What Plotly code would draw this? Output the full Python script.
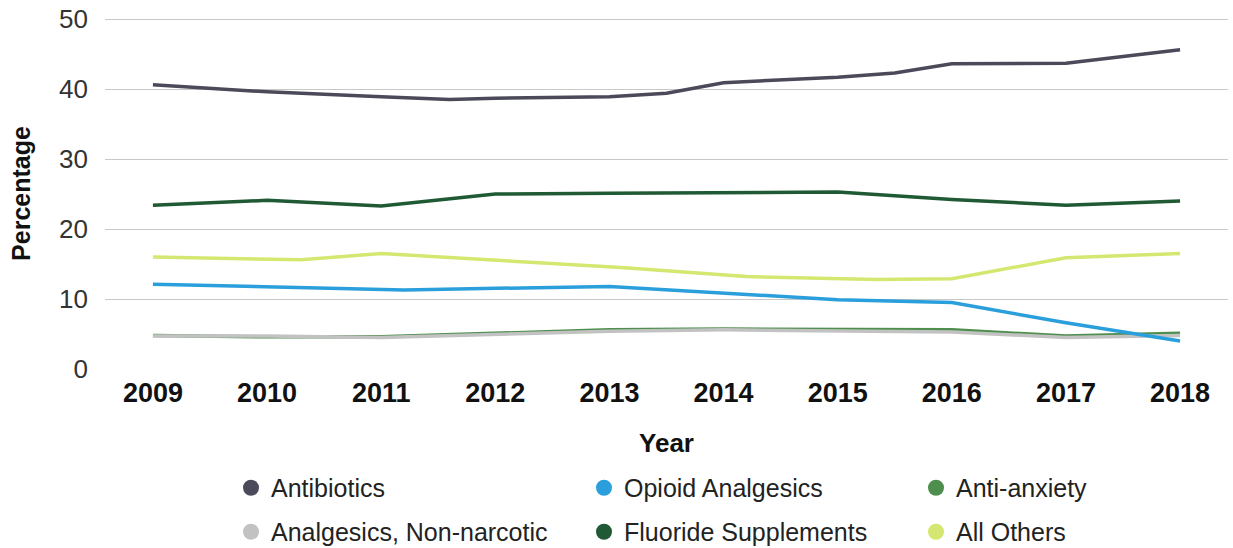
import plotly.graph_objects as go

years = [2009, 2010, 2011, 2012, 2013, 2014, 2015, 2016, 2017, 2018]

antibiotics_x = [2009, 2010, 2011, 2011.6, 2012, 2013, 2013.5, 2014, 2015, 2015.5, 2016, 2017, 2018]
antibiotics_y = [40.6, 39.6, 38.9, 38.5, 38.7, 38.9, 39.4, 40.9, 41.7, 42.3, 43.6, 43.7, 45.6]

opioid_x = [2009, 2011.2, 2013, 2014.2, 2015, 2016, 2017, 2018]
opioid_y = [12.1, 11.3, 11.8, 10.6, 9.9, 9.5, 6.6, 4.0]

anti_anxiety_y = [4.8, 4.6, 4.6, 5.1, 5.6, 5.7, 5.6, 5.6, 4.7, 5.1]
analgesics_y = [4.7, 4.7, 4.5, 5.0, 5.4, 5.6, 5.4, 5.3, 4.5, 4.8]

fluoride_y = [23.4, 24.1, 23.3, 25.0, 25.1, 25.2, 25.3, 24.2, 23.4, 24.0]

others_x = [2009, 2010.3, 2011, 2013.1, 2014.2, 2015.35, 2016, 2017, 2018]
others_y = [16.0, 15.6, 16.5, 14.5, 13.2, 12.8, 12.9, 15.9, 16.5]

series = [
    # name, x, y, color, legend id
    ("Fluoride Supplements", years, fluoride_y, "#1f5a35", "legend5"),
    ("All Others", others_x, others_y, "#d5e770", "legend6"),
    ("Antibiotics", antibiotics_x, antibiotics_y, "#4a4a5a", "legend"),
    ("Anti-anxiety", years, anti_anxiety_y, "#4e8f4e", "legend3"),
    ("Analgesics, Non-narcotic", years, analgesics_y, "#c2c2c2", "legend4"),
    ("Opioid Analgesics", opioid_x, opioid_y, "#2a9fdc", "legend2"),
]

fig = go.Figure()
for name, x, y, color, lg in series:
    fig.add_trace(go.Scatter(x=x, y=y, mode="lines", name=name,
                             line=dict(color=color, width=3.5),
                             showlegend=False, hoverinfo="x+y+name"))
    fig.add_trace(go.Scatter(x=[None], y=[None], mode="markers", name=name,
                             marker=dict(color=color, size=18, symbol="circle"),
                             legend=lg, showlegend=True))

# body margin is removed by post_script, so figure coords == page coords
YMAX = 50.15
W, H = 1233, 548
L = 105
R = W - 1228
B = H - 369
ph = 350 * YMAX / 50
T = 369 - ph
pw = W - L - R

def lx(px):
    return (px - L) / pw

def ly(py):
    return (H - B - py) / ph

col_px = [231, 584, 916]
row_py = [488, 532]
leg_font = dict(family="Liberation Sans, Arial, sans-serif", size=25, color="#222222")
legend_layout = {}
ids = [["legend", "legend2", "legend3"], ["legend4", "legend5", "legend6"]]
for r in range(2):
    for c in range(3):
        legend_layout[ids[r][c]] = dict(x=lx(col_px[c]), y=ly(row_py[r]), xanchor="left",
                                        yanchor="middle", font=leg_font,
                                        bgcolor="rgba(0,0,0,0)", orientation="v")

fig.update_layout(
    width=W, height=H,
    margin=dict(l=L, r=R, t=T, b=B, autoexpand=False),
    paper_bgcolor="white", plot_bgcolor="white",
    font=dict(family="Liberation Sans, Arial, sans-serif", color="#333333"),
    xaxis=dict(range=[2008.58, 2018.42], tickmode="array", tickvals=years,
               ticktext=[f"<b>{y}</b>" for y in years], automargin=False,
               tickfont=dict(size=27, color="#111111"), showgrid=False, zeroline=False,
               showline=False, ticks="", ticklabelstandoff=5, ticklabeloverflow="allow",
               title=dict(text="<b>Year</b>", font=dict(size=26, color="#111111"), standoff=26)),
    yaxis=dict(range=[0, YMAX], tickvals=[0, 10, 20, 30, 40, 50], automargin=False,
               tickfont=dict(size=26, color="#333333"), showgrid=True,
               gridcolor="#c8c8c8", gridwidth=1, zeroline=False, showline=False,
               ticks="", ticklabelstandoff=16, ticklabeloverflow="allow",
               title=dict(text="<b>Percentage</b>", font=dict(size=25, color="#111111"), standoff=21)),
    **legend_layout,
)

fig.write_html("out.html", config={"displayModeBar": False},
               post_script="document.body.style.margin='0';document.body.style.overflow='hidden';")
